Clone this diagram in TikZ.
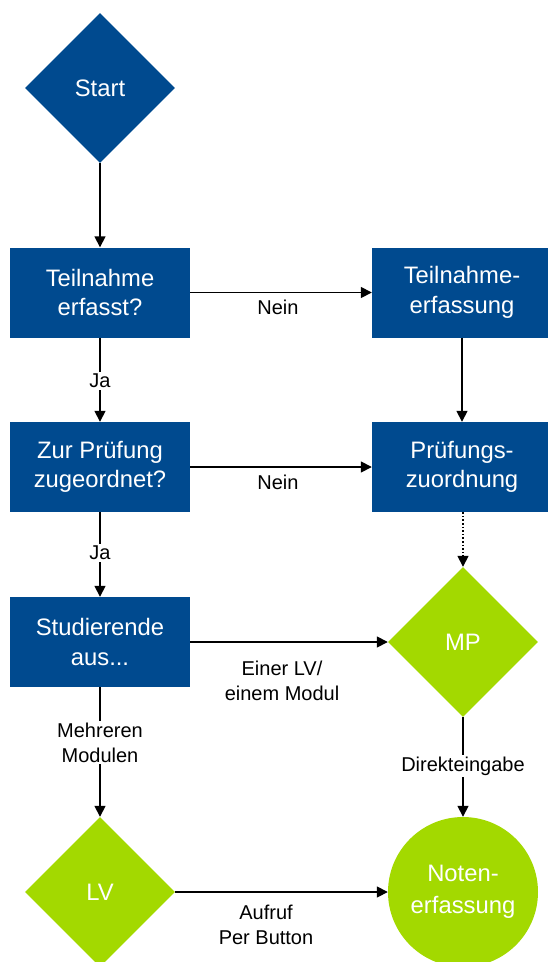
\documentclass[tikz,border=0pt]{standalone}
\usepackage{fontspec}
\setmainfont{Liberation Sans}
\usetikzlibrary{shapes.geometric,arrows.meta}
\definecolor{uniblue}{RGB}{0,74,143}
\definecolor{unigreen}{RGB}{163,217,0}
\tikzset{
  boxnode/.style={rectangle,fill=uniblue,text=white,minimum width=180pt,minimum height=90pt,inner sep=0pt,align=center,font=\fontsize{23.8}{29.5}\selectfont},
  bluediamond/.style={diamond,fill=uniblue,text=white,minimum width=150pt,minimum height=150pt,inner sep=0pt,align=center,font=\fontsize{23.8}{29.5}\selectfont},
  greendiamond/.style={diamond,fill=unigreen,text=white,minimum width=150pt,minimum height=150pt,inner sep=0pt,align=center,font=\fontsize{23.8}{29.5}\selectfont},
  greencircle/.style={circle,fill=unigreen,text=white,minimum size=150pt,inner sep=0pt,align=center,font=\fontsize{23.8}{32}\selectfont},
  conn/.style={line width=1.6pt,-{Triangle[length=11pt,width=11pt]}},
  lbl/.style={fill=white,inner sep=2pt,align=center,font=\fontsize{20}{25}\selectfont},
}
\begin{document}
\begin{tikzpicture}[x=1pt,y=-1pt]
\useasboundingbox (0,0) rectangle (548,962);
\node[bluediamond] (start) at (100,88) {Start};
\node[boxnode] (teil) at (100,292.5) {Teilnahme\\erfasst?};
\node[boxnode] (teilerf) at (462,292.5) {Teilnahme-\\erfassung};
\node[boxnode] (zur) at (100,467) {Zur Prüfung\\zugeordnet?};
\node[boxnode] (pzu) at (462,467) {Prüfungs-\\zuordnung};
\node[boxnode] (stud) at (100,642) {Studierende\\aus...};
\node[greendiamond] (mp) at (463,642) {MP};
\node[greendiamond] (lv) at (100,892) {LV};
\node[greencircle] (noten) at (463,892) {Noten-\\erfassung};

\draw[conn] (start) -- (teil);
\draw[conn] (teil) -- (teilerf);
\draw[conn] (teilerf) -- (teilerf|-pzu.north);
\draw[conn] (teil) -- (zur);
\draw[conn] (zur) -- (pzu);
\draw[conn,dotted] (mp|-pzu.south) -- (mp);
\draw[conn] (zur) -- (stud);
\draw[conn] (stud) -- (mp);
\draw[conn] (stud) -- (lv);
\draw[conn] (mp) -- (noten);
\draw[conn] (lv) -- (noten);

\node[lbl] (l1) at (278,307) {Nein};
\node[lbl] (l2) at (100,381) {Ja};
\node[lbl] (l3) at (278,482) {Nein};
\node[lbl] (l4) at (100,553) {Ja};
\node[lbl] (l5) at (282,680.5) {Einer LV/\\einem Modul};
\node[lbl] (l6) at (100,742.5) {Mehreren\\Modulen};
\node[lbl] (l7) at (463,766) {Direkteingabe};
\node[lbl] (l8) at (266,924.5) {Aufruf\\Per Button};
\end{tikzpicture}
\end{document}
